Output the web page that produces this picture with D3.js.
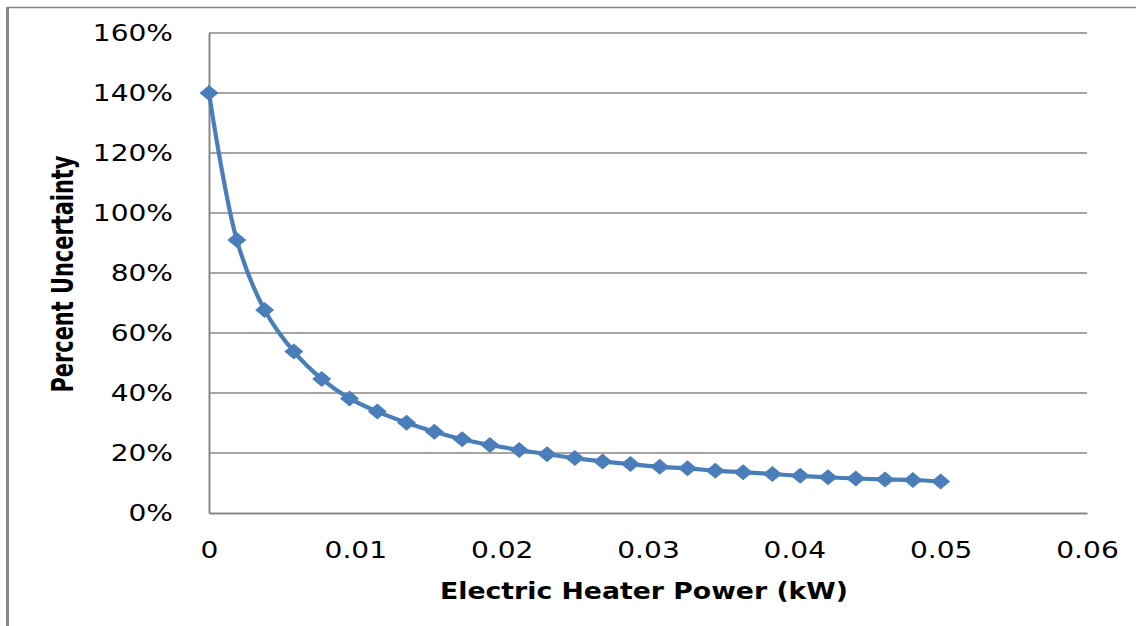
<!DOCTYPE html>
<html>
<head>
<meta charset="utf-8">
<script src="https://cdn.jsdelivr.net/npm/d3@7"></script>
<style>
  body { margin: 0; background: #fff; }
  svg { display: block; }
</style>
</head>
<body>
<div id="svganchor"></div>
<script>
let width = 1136;
let height = 626;
let margin = { top: 33, right: 49, bottom: 113, left: 209 };

// Electric heater power (kW)
let power = [0, 0.0019, 0.0038, 0.0058, 0.0077, 0.0096, 0.0115, 0.0135, 0.0154, 0.0173,
  0.0192, 0.0212, 0.0231, 0.025, 0.0269, 0.0288, 0.0308, 0.0327, 0.0346, 0.0365,
  0.0385, 0.0404, 0.0423, 0.0442, 0.0462, 0.0481, 0.05];
// Percent uncertainty (%)
let uncertainty = [140, 91, 67.7, 53.8, 44.7, 38.2, 33.8, 30.1, 27.1, 24.6,
  22.7, 21, 19.6, 18.3, 17.2, 16.3, 15.4, 14.9, 14.1, 13.6,
  13.0, 12.4, 11.9, 11.5, 11.2, 11.0, 10.5];
let xTicks = [0, 0.01, 0.02, 0.03, 0.04, 0.05, 0.06];
let yTicks = [0, 20, 40, 60, 80, 100, 120, 140, 160];

let data = power.map(function (p, i) {
  return { x: p, y: uncertainty[i] };
});

let lineColor = "#4A7EBB";
let gridColor = "#878787";
let stretch = 1.22;

let svg = d3.select("#svganchor").append("svg").attr("width", width).attr("height", height);

// outer frame (top and left edges visible)
svg.append("line").attr("x1", 7).attr("x2", width).attr("y1", 7.5).attr("y2", 7.5)
  .attr("stroke", gridColor).attr("stroke-width", 1.5);
svg.append("line").attr("x1", 7.5).attr("x2", 7.5).attr("y1", 7).attr("y2", height)
  .attr("stroke", gridColor).attr("stroke-width", 3);

let xScale = d3.scaleLinear().domain([0, 0.06]).range([margin.left, width - margin.right]);
let yScale = d3.scaleLinear().domain([0, 160]).range([height - margin.bottom, margin.top]);

// horizontal gridlines
svg.append("g")
  .selectAll("line")
  .data(yTicks.filter(function (d) { return d > 0; }))
  .enter()
  .append("line")
  .attr("x1", margin.left)
  .attr("x2", width - margin.right)
  .attr("y1", function (d) { return yScale(d); })
  .attr("y2", function (d) { return yScale(d); })
  .attr("stroke", gridColor)
  .attr("stroke-width", 1.3);

// y axis
let yAxis = d3.axisLeft(yScale).tickValues(yTicks).tickSize(0).tickPadding(36)
  .tickFormat(function (d) { return d + "%"; });
let gy = svg.append("g").attr("transform", "translate(" + margin.left + ",0)").call(yAxis);
gy.select(".domain").attr("stroke", gridColor).attr("stroke-width", 2);

// x axis
let xAxis = d3.axisBottom(xScale).tickValues(xTicks).tickSize(0).tickPadding(29)
  .tickFormat(function (d) { return d === 0 ? "0" : d3.format(".2f")(d); });
let gx = svg.append("g").attr("transform", "translate(0," + (height - margin.bottom) + ")").call(xAxis);
gx.select(".domain").attr("stroke", gridColor).attr("stroke-width", 2);

svg.selectAll(".tick text")
  .attr("fill", "#000")
  .style("font-family", "'DejaVu Sans', sans-serif")
  .style("font-size", "23px")
  .each(function () {
    let t = d3.select(this);
    let len = this.getComputedTextLength();
    t.attr("textLength", len * stretch).attr("lengthAdjust", "spacingAndGlyphs");
  });

// smoothed line
let line = d3.line()
  .x(function (d) { return xScale(d.x); })
  .y(function (d) { return yScale(d.y); })
  .curve(d3.curveCatmullRom.alpha(0.5));

svg.append("path")
  .datum(data)
  .attr("d", line)
  .attr("fill", "none")
  .attr("stroke", lineColor)
  .attr("stroke-width", 4.2)
  .attr("stroke-linejoin", "round");

// diamond markers
svg.append("g")
  .selectAll("path")
  .data(data)
  .enter()
  .append("path")
  .attr("transform", function (d) {
    return "translate(" + xScale(d.x) + "," + yScale(d.y) + ")";
  })
  .attr("d", "M0,-8L9.5,0L0,8L-9.5,0Z")
  .attr("fill", lineColor);

// axis titles
svg.append("text")
  .attr("x", 644)
  .attr("y", 599)
  .attr("text-anchor", "middle")
  .attr("textLength", 408)
  .attr("lengthAdjust", "spacingAndGlyphs")
  .style("font-family", "'DejaVu Sans', sans-serif")
  .style("font-weight", "bold")
  .style("font-size", "23px")
  .text("Electric Heater Power (kW)");

svg.append("text")
  .attr("transform", "translate(73,274) rotate(-90)")
  .attr("text-anchor", "middle")
  .attr("textLength", 237)
  .attr("lengthAdjust", "spacingAndGlyphs")
  .style("font-family", "'Liberation Sans Narrow', 'DejaVu Sans Condensed', sans-serif")
  .style("font-weight", "bold")
  .style("font-size", "31px")
  .text("Percent Uncertainty");
</script>
</body>
</html>
